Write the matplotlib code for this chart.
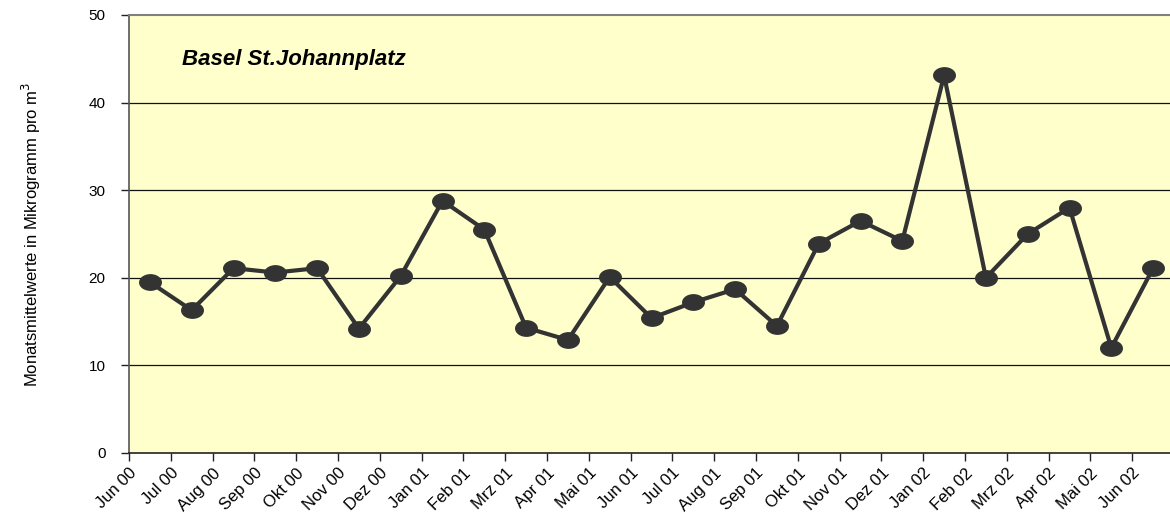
import numpy as np
import matplotlib
matplotlib.use("Agg")
import matplotlib.pyplot as plt
from matplotlib.path import Path
from matplotlib.transforms import ScaledTranslation

months = ["Jun 00", "Jul 00", "Aug 00", "Sep 00", "Okt 00", "Nov 00", "Dez 00",
          "Jan 01", "Feb 01", "Mrz 01", "Apr 01", "Mai 01", "Jun 01", "Jul 01",
          "Aug 01", "Sep 01", "Okt 01", "Nov 01", "Dez 01", "Jan 02", "Feb 02",
          "Mrz 02", "Apr 02", "Mai 02", "Jun 02"]
values = [19.5, 16.3, 21.1, 20.6, 21.1, 14.2, 20.2, 28.8, 25.5, 14.3, 12.9, 20.1,
          15.4, 17.2, 18.7, 14.5, 23.9, 26.5, 24.2, 43.1, 20.0, 25.0, 28.0, 12.0, 21.1]
yticks = [0, 10, 20, 30, 40, 50]
title = "Basel St.Johannplatz"
ylabel = "Monatsmittelwerte in Mikrogramm pro m$^3$"

plt.rcParams['font.family'] = ['Liberation Sans', 'DejaVu Sans']

fig = plt.figure(figsize=(11.70, 5.23), dpi=100)
ax = fig.add_axes([129/1170, 70/523, 1045/1170, 438/523])
ax.set_facecolor("#FFFFCC")

# elliptical marker
t = np.linspace(0, 2*np.pi, 64)
ell = Path(np.column_stack([1.4*np.cos(t), np.sin(t)]), closed=True)

x = np.arange(len(values)) + 0.5
ax.plot(x, values, color="#333333", lw=3.0, marker=ell, markersize=15.5,
        markerfacecolor="#333333", markeredgecolor="#333333", zorder=3,
        solid_joinstyle="round")

ax.set_xlim(0, len(months))
ax.set_ylim(0, 50)
ax.set_yticks(yticks)
ax.set_yticklabels([str(v) for v in yticks], fontsize=11)
ax.set_xticks(np.arange(len(months)))
ax.set_xticklabels(months, rotation=45, ha="right", va="top",
                   rotation_mode="anchor", fontsize=12)
offset = ScaledTranslation(8/100, 0, fig.dpi_scale_trans)
for lab in ax.get_xticklabels():
    lab.set_transform(lab.get_transform() + offset)
ax.tick_params(axis="both", direction="out", length=6, width=1, color="#222222")
ax.tick_params(axis="x", pad=3)
ax.tick_params(axis="y", pad=11)

for v in yticks[1:-1]:
    ax.axhline(v, color="#111111", lw=0.9, zorder=1)

ax.spines["top"].set_color("#808080")
ax.spines["top"].set_linewidth(1.5)
ax.spines["left"].set_color("#555555")
ax.spines["left"].set_linewidth(1.2)
ax.spines["bottom"].set_color("#222222")
ax.spines["bottom"].set_linewidth(1.2)
ax.spines["right"].set_visible(False)

ax.set_ylabel(ylabel, fontsize=12, labelpad=33)

ax.text(182/1170, 1 - 60/523, title, transform=fig.transFigure, fontsize=16,
        fontweight="bold", fontstyle="italic", ha="left", va="center")

fig.savefig("out.png", dpi=100)
